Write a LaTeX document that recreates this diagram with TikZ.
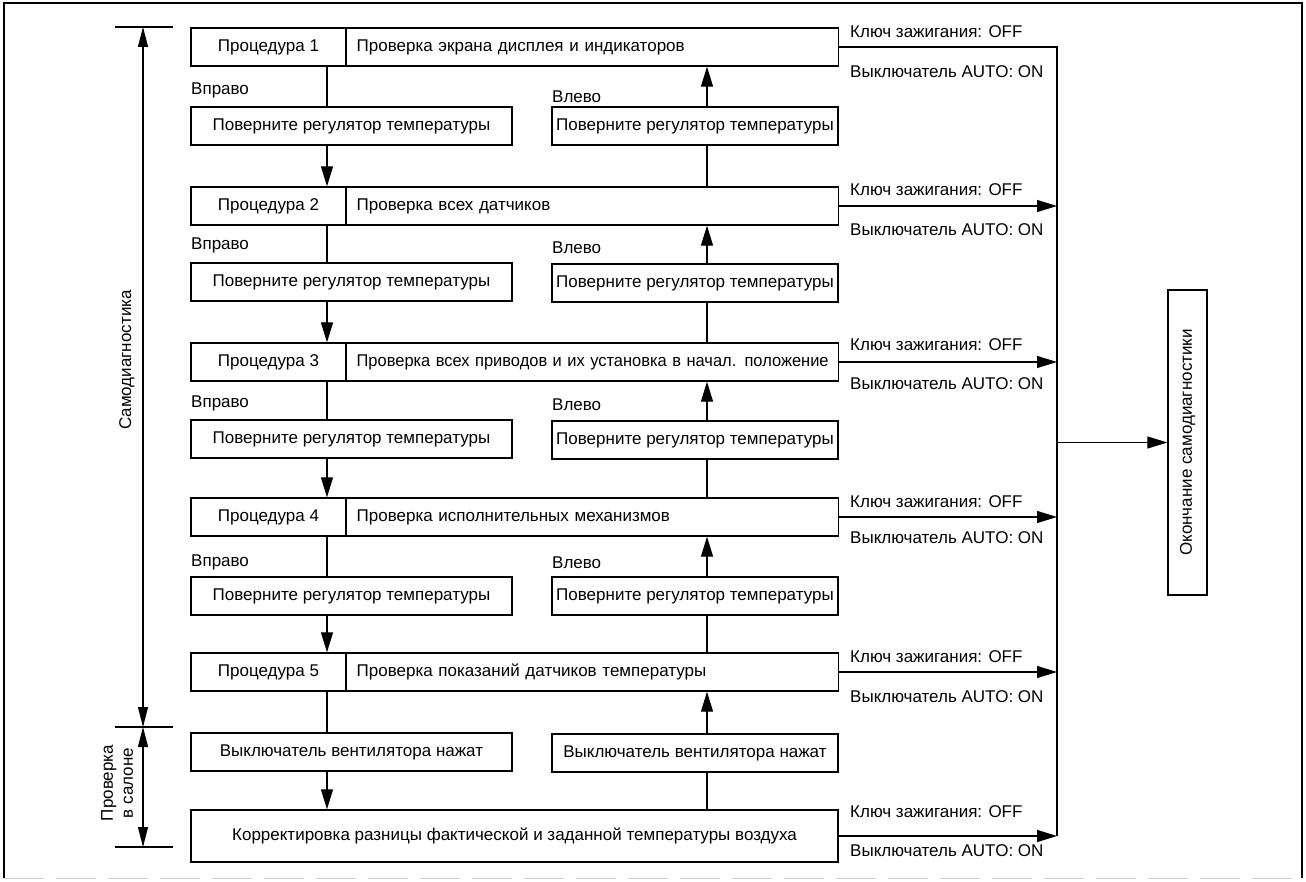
\documentclass[tikz,border=0pt]{standalone}
\usepackage{fontspec}
\usepackage{graphicx}
\setmainfont{Liberation Sans}
\usetikzlibrary{arrows.meta}
\begin{document}
\begin{tikzpicture}[x=1pt,y=-1pt,
  font=\fontsize{17}{20}\selectfont,
  box/.style={draw,line width=1.3pt,inner sep=0pt,minimum height=38pt},
  pname/.style={box,minimum width=155pt},
  pdesc/.style={box,text width=472pt,align=left,inner xsep=10pt,inner ysep=0pt,anchor=west},
  lbox/.style={box,minimum width=321pt},
  rbox/.style={box,minimum width=286pt},
  lbl/.style={inner sep=0pt,anchor=west},
  conn/.style={line width=1.2pt},
  arr/.style={conn,-{Triangle[length=20pt,width=12pt]}},
  dimarr/.style={line width=1.2pt,{Triangle[length=20pt,width=10pt]}-{Triangle[length=20pt,width=10pt]}},
]
\useasboundingbox (0,0) rectangle (1306,882);
% frame
\draw[line width=2.5pt] (4,878) -- (4,3) -- (1302,3) -- (1302,878);
\draw[gray!40,line width=1pt,dash pattern=on 40pt off 12pt] (4,878) -- (1302,878);

% column coordinates
\coordinate (xl) at (327,0);
\coordinate (xr) at (707,0);
\coordinate (cx) at (1057,0);

% procedures
\node[pname] (pa1) at (268.5,47) {Процедура 1};
\node[pdesc] (pb1) at (346,47) {Проверка экрана дисплея и индикаторов};
\node[pname] (pa2) at (268.5,206) {Процедура 2};
\node[pdesc] (pb2) at (346,206) {Проверка всех датчиков};
\node[pname] (pa3) at (268.5,362) {Процедура 3};
\node[pdesc] (pb3) at (346,362) {\resizebox{472pt}{\height}{Проверка всех приводов и их установка в начал. положение}};
\node[pname] (pa4) at (268.5,517) {Процедура 4};
\node[pdesc] (pb4) at (346,517) {Проверка исполнительных механизмов};
\node[pname] (pa5) at (268.5,672) {Процедура 5};
\node[pdesc] (pb5) at (346,672) {Проверка показаний датчиков температуры};
\node[box,minimum width=647pt,minimum height=52pt] (korr) at (514.5,836) {Корректировка разницы фактической и заданной температуры воздуха};

% turn boxes
\node[lbox] (l1) at (351.5,126) {Поверните регулятор температуры};
\node[rbox] (r1) at (695,126) {Поверните регулятор температуры};
\node[lbox] (l2) at (351.5,282) {Поверните регулятор температуры};
\node[rbox] (r2) at (695,283) {Поверните регулятор температуры};
\node[lbox] (l3) at (351.5,439) {Поверните регулятор температуры};
\node[rbox] (r3) at (695,440) {Поверните регулятор температуры};
\node[lbox] (l4) at (351.5,596) {Поверните регулятор температуры};
\node[rbox] (r4) at (695,596) {Поверните регулятор температуры};
\node[lbox] (l5) at (351.5,752) {Выключатель вентилятора нажат};
\node[rbox] (r5) at (695,753) {Выключатель вентилятора нажат};

% direction labels
\node[lbl] (vp1) at (191,90) {Вправо};
\node[lbl] (vl1) at (552,97) {Влево};
\node[lbl] (vp2) at (191,245) {Вправо};
\node[lbl] (vl2) at (552,248) {Влево};
\node[lbl] (vp3) at (191,403) {Вправо};
\node[lbl] (vl3) at (552,405) {Влево};
\node[lbl] (vp4) at (191,562) {Вправо};
\node[lbl] (vl4) at (552,563) {Влево};

% left column (down)
\draw[conn] (pa1.south -| xl) -- (l1.north -| xl);
\draw[arr] (l1.south -| xl) -- (pa2.north -| xl);
\draw[conn] (pa2.south -| xl) -- (l2.north -| xl);
\draw[arr] (l2.south -| xl) -- (pa3.north -| xl);
\draw[conn] (pa3.south -| xl) -- (l3.north -| xl);
\draw[arr] (l3.south -| xl) -- (pa4.north -| xl);
\draw[conn] (pa4.south -| xl) -- (l4.north -| xl);
\draw[arr] (l4.south -| xl) -- (pa5.north -| xl);
\draw[conn] (pa5.south -| xl) -- (l5.north -| xl);
\draw[arr] (l5.south -| xl) -- (korr.north -| xl);

% right column (up)
\draw[conn] (pb2.north -| xr) -- (r1.south -| xr);
\draw[arr] (r1.north -| xr) -- (pb1.south -| xr);
\draw[conn] (pb3.north -| xr) -- (r2.south -| xr);
\draw[arr] (r2.north -| xr) -- (pb2.south -| xr);
\draw[conn] (pb4.north -| xr) -- (r3.south -| xr);
\draw[arr] (r3.north -| xr) -- (pb3.south -| xr);
\draw[conn] (pb5.north -| xr) -- (r4.south -| xr);
\draw[arr] (r4.north -| xr) -- (pb4.south -| xr);
\draw[conn] (korr.north -| xr) -- (r5.south -| xr);
\draw[arr] (r5.north -| xr) -- (pb5.south -| xr);

% collector
\draw[conn] (pb1.east) -- (pb1.east -| cx) -- (korr.east -| cx);
\draw[arr] (pb2.east) -- (pb2.east -| cx);
\draw[arr] (pb3.east) -- (pb3.east -| cx);
\draw[arr] (pb4.east) -- (pb4.east -| cx);
\draw[arr] (pb5.east) -- (pb5.east -| cx);
\draw[arr] (korr.east) -- (korr.east -| cx);

% condition labels
\node[lbl] (k1) at (850,32) {Ключ зажигания: OFF};
\node[lbl] (a1) at (850,72) {Выключатель AUTO: ON};
\node[lbl] (k2) at (850,190) {Ключ зажигания: OFF};
\node[lbl] (a2) at (850,230) {Выключатель AUTO: ON};
\node[lbl] (k3) at (850,345) {Ключ зажигания: OFF};
\node[lbl] (a3) at (850,384) {Выключатель AUTO: ON};
\node[lbl] (k4) at (850,502) {Ключ зажигания: OFF};
\node[lbl] (a4) at (850,538) {Выключатель AUTO: ON};
\node[lbl] (k5) at (850,657) {Ключ зажигания: OFF};
\node[lbl] (a5) at (850,697) {Выключатель AUTO: ON};
\node[lbl] (k6) at (850,812) {Ключ зажигания: OFF};
\node[lbl] (a6) at (850,851) {Выключатель AUTO: ON};

% end node
\node[box,rotate=90,minimum width=305pt,minimum height=39pt] (endn) at (1187.5,442.5) {Окончание самодиагностики};
\draw[arr] (endn.north -| cx) -- (endn.north);

% dimension lines
\coordinate (dt) at (143,27);
\coordinate (dm) at (143,727);
\coordinate (db) at (143,847);
\draw[conn] (115,27) -- (173,27);
\draw[conn] (115,727) -- (173,727);
\draw[conn] (115,847) -- (173,847);
\draw[dimarr] (dt) -- (dm);
\draw[dimarr] (dm) -- (db);
\node[rotate=90] (t1) at (127,360) {Самодиагностика};
\node[rotate=90,align=center] (t2) at (117,783) {Проверка\\в салоне};
\end{tikzpicture}
\end{document}
